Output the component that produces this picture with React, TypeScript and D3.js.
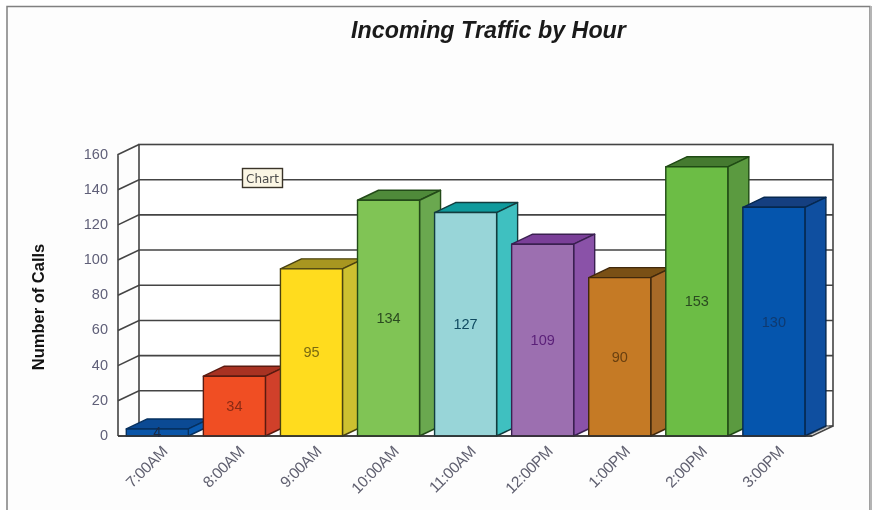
import * as d3 from "d3"

const hours = ["7:00AM", "8:00AM", "9:00AM", "10:00AM", "11:00AM", "12:00PM", "1:00PM", "2:00PM", "3:00PM"]
const calls = [4, 34, 95, 134, 127, 109, 90, 153, 130]
const frontColors = ["#0a55a8", "#f04e23", "#ffdc1e", "#80c455", "#98d5d8", "#9c6fb0", "#c57a25", "#6cbd45", "#0555ad"]
const topColors = ["#0b4a94", "#a83222", "#a89620", "#4f8a3a", "#0e9a9c", "#7a3f98", "#7a5015", "#457a30", "#153f80"]
const sideColors = ["#0a5ab0", "#d0402a", "#cdc030", "#6aa84f", "#3fc0c0", "#8a52a8", "#a86a28", "#5b9a40", "#0f4fa0"]
const strokeColors = ["#06305f", "#5a1a10", "#4a4210", "#234a18", "#123c3e", "#3a2050", "#40280c", "#1f4a14", "#06284f"]
const labelColors = ["#1a2a44", "#8a2a14", "#7a6a10", "#2a4a20", "#0f4a60", "#5a1f78", "#6a4010", "#2a4a20", "#0f3a70"]

const width = 877
const height = 510
const depthX = 21
const depthY = 10

export default function App() {
  const x = d3.scaleBand<string>().domain(hours).range([118.6, 812.6]).paddingInner(0.195).paddingOuter(0.1)
  const y = d3.scaleLinear().domain([0, 160]).range([436, 154.5])
  const ticks = y.ticks(8)
  const right = 812
  const left = 118
  const y0 = y(0)
  const yTop = y(160)

  return (
    <svg
      width={width}
      height={height}
      style={{
        position: "fixed",
        left: 0,
        top: 0,
        fontFamily: "'Liberation Sans', Arial, sans-serif",
        filter: "blur(0.35px)",
      }}
    >
      <rect width={width} height={height} fill="#ffffff" />
      {/* window frame */}
      <rect x={7} y={6.5} width={863} height={520} fill="#fdfdfd" stroke="#808080" strokeWidth={1.5} />
      <rect x={870} y={6} width={2} height={504} fill="#b4b4b4" />

      <text x={488.5} y={38} textAnchor="middle" fontSize={23.3} fontWeight="bold" fontStyle="italic" fill="#1a1a1a">
        Incoming Traffic by Hour
      </text>

      {/* walls */}
      <g stroke="#444" strokeWidth={1.6} fill="none">
        <rect x={left + depthX} y={yTop - depthY} width={right - left} height={y0 - yTop} fill="#fff" />
        <path d={`M${left},${y0}V${yTop}L${left + depthX},${yTop - depthY}`} />
        <path d={`M${left},${y0}H${right}L${right + depthX},${y0 - depthY}`} />
        <path d={`M${right - 4},${y0 - 0.5}L${right + depthX - 4},${y0 - depthY - 0.5}`} stroke="#999" />
        {ticks.slice(1, -1).map((t) => (
          <path key={t} d={`M${left},${y(t)}L${left + depthX},${y(t) - depthY}H${right + depthX}`} />
        ))}
      </g>

      {/* y axis */}
      {ticks.map((t) => (
        <text key={t} x={108} y={y(t) + 4} textAnchor="end" fontSize={14.5} fill="#5f5f78">
          {t}
        </text>
      ))}
      <text
        transform="translate(44,307) rotate(-90)"
        textAnchor="middle"
        fontSize={16.5}
        fontWeight="bold"
        fill="#111"
      >
        Number of Calls
      </text>

      {/* bars */}
      {hours.map((h, i) => {
        const bx = x(h) as number
        const bw = x.bandwidth()
        const by = y(calls[i])
        const stroke = strokeColors[i]
        return (
          <g key={h} stroke={stroke} strokeWidth={1.4} strokeLinejoin="round">
            <path
              d={`M${bx},${by}l${depthX},${-depthY}h${bw}l${-depthX},${depthY}z`}
              fill={topColors[i]}
            />
            <path
              d={`M${bx + bw},${by}l${depthX},${-depthY}V${y0 - depthY}l${-depthX},${depthY}z`}
              fill={sideColors[i]}
            />
            <rect x={bx} y={by} width={bw} height={y0 - by} fill={frontColors[i]} />
          </g>
        )
      })}
      <path d={`M${left},${y0}H${right}`} stroke="#333" strokeWidth={1.5} />

      {/* value labels */}
      {hours.map((h, i) => (
        <text
          key={h}
          x={(x(h) as number) + x.bandwidth() / 2}
          y={(y(calls[i]) + y0) / 2 + 5}
          textAnchor="middle"
          fontSize={14.5}
          fill={labelColors[i]}
        >
          {calls[i]}
        </text>
      ))}

      {/* category labels */}
      {hours.map((h) => (
        <text
          key={h}
          transform={`translate(${(x(h) as number) + x.bandwidth() / 2 + 11},${y0 + 16.5}) rotate(-45)`}
          textAnchor="end"
          fontSize={15.5}
          letterSpacing={-0.4}
          fill="#606070"
        >
          {h}
        </text>
      ))}

      {/* tooltip */}
      <rect x={242.5} y={168.5} width={40} height={19} fill="#fbf6e4" stroke="#3a3428" strokeWidth={1.4} />
      <text
        x={262.5}
        y={182.5}
        textAnchor="middle"
        fontSize={12}
        fontFamily="'DejaVu Sans', sans-serif"
        fill="#4a4a4a"
      >
        Chart
      </text>
    </svg>
  )
}
